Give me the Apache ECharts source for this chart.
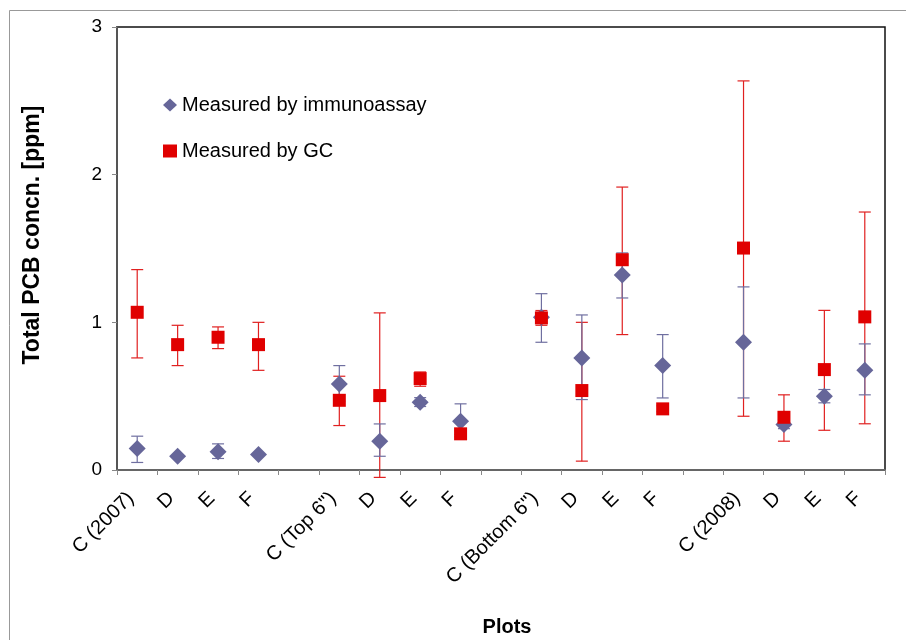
<!DOCTYPE html>
<html>
<head>
<meta charset="utf-8">
<script src="https://cdn.jsdelivr.net/npm/echarts@6/dist/echarts.min.js"></script>
<style>
  html, body { margin: 0; padding: 0; background: #fff; }
  #chart { width: 906px; height: 640px; }
</style>
</head>
<body>
<div id="chart"></div>
<script>
// Plot categories (blank entries separate the four groups)
const categories = ['C (2007)', 'D', 'E', 'F', '',
  'C (Top 6")', 'D', 'E', 'F', '',
  'C (Bottom 6")', 'D', 'E', 'F', '',
  'C (2008)', 'D', 'E', 'F'];

// Total PCB [ppm] measured by immunoassay, with error-bar limits
const immunoMean = [0.145, 0.093, 0.123, 0.105, null, 0.583, 0.195, 0.459, 0.330, null, 1.034, 0.759, 1.321, 0.707, null, 0.865, 0.308, 0.499, 0.675];
const immunoLow  = [0.051, 0.093, 0.078, 0.105, null, 0.466, 0.093, 0.430, 0.240, null, 0.865, 0.477, 1.165, 0.488, null, 0.488, 0.280, 0.455, 0.509];
const immunoHigh = [0.229, 0.093, 0.177, 0.105, null, 0.707, 0.312, 0.490, 0.448, null, 1.194, 1.050, 1.470, 0.917, null, 1.240, 0.340, 0.545, 0.854];

// Total PCB [ppm] measured by GC, with error-bar limits
const gcMean = [1.068, 0.849, 0.899, 0.849, null, 0.472, 0.504, 0.619, 0.245, null, 1.030, 0.538, 1.424, 0.414, null, 1.503, 0.357, 0.680, 1.037];
const gcLow  = [0.759, 0.707, 0.822, 0.675, null, 0.301, -0.050, 0.567, 0.225, null, 0.980, 0.060, 0.917, 0.395, null, 0.364, 0.195, 0.269, 0.313];
const gcHigh = [1.357, 0.980, 0.969, 1.000, null, 0.635, 1.064, 0.664, 0.265, null, 1.080, 1.000, 1.916, 0.435, null, 2.635, 0.509, 1.081, 1.747];

const yTicks = [0, 1, 2, 3];

const FONT = 'Arial, "Liberation Sans", sans-serif';
const IMMUNO_COLOR = '#666699';
const GC_COLOR = '#e00000';

function points(mean) {
  const out = [];
  mean.forEach((v, i) => { if (v !== null) out.push([i, v]); });
  return out;
}
function bars(low, high) {
  const out = [];
  low.forEach((v, i) => { if (v !== null && high[i] !== null && high[i] !== v) out.push([i, v, high[i]]); });
  return out;
}

function errorBarRenderer(color) {
  return function (params, api) {
    const x = api.value(0);
    const lo = api.coord([x, api.value(1)]);
    const hi = api.coord([x, api.value(2)]);
    const half = 6;
    const style = { stroke: color, lineWidth: 1.2 };
    return {
      type: 'group',
      children: [
        { type: 'line', shape: { x1: lo[0], y1: lo[1], x2: hi[0], y2: hi[1] }, style },
        { type: 'line', shape: { x1: hi[0] - half, y1: hi[1], x2: hi[0] + half, y2: hi[1] }, style },
        { type: 'line', shape: { x1: lo[0] - half, y1: lo[1], x2: lo[0] + half, y2: lo[1] }, style }
      ]
    };
  };
}

const chart = echarts.init(document.getElementById('chart'), null, { renderer: 'canvas' });

chart.setOption({
  animation: false,
  backgroundColor: '#fff',
  textStyle: { fontFamily: FONT },
  grid: {
    left: 117, top: 27, right: 21, bottom: 170,
    show: true, borderColor: '#111', borderWidth: 1.5, backgroundColor: '#fff'
  },
  legend: {
    left: 163, top: 95, orient: 'vertical', padding: 0,
    itemWidth: 14, itemHeight: 13, itemGap: 26,
    textStyle: { fontFamily: FONT, fontSize: 20, color: '#000' },
    data: [
      { name: 'Measured by immunoassay', icon: 'diamond' },
      { name: 'Measured by GC', icon: 'rect' }
    ]
  },
  xAxis: {
    type: 'category',
    data: categories,
    boundaryGap: true,
    axisLine: { lineStyle: { color: '#666', width: 2 } },
    axisTick: { show: true, interval: 0, length: 5, lineStyle: { color: '#888' } },
    axisLabel: {
      interval: 0, rotate: 45, fontSize: 20, color: '#000',
      fontFamily: FONT, margin: 19, padding: [0, 9, 0, 0]
    },
    splitLine: { show: false }
  },
  yAxis: {
    type: 'value',
    min: yTicks[0], max: yTicks[yTicks.length - 1], interval: 1,
    axisLine: { show: true, lineStyle: { color: '#555', width: 2 } },
    axisTick: { show: true, length: 5, lineStyle: { color: '#888' } },
    axisLabel: { fontSize: 19, color: '#000', margin: 15, fontFamily: FONT },
    splitLine: { show: false }
  },
  graphic: [
    {
      type: 'rect', silent: true, z: -10,
      shape: { x: 9.5, y: 10.5, width: 1000, height: 1000 },
      style: { fill: 'none', stroke: '#999', lineWidth: 1 }
    },
    {
      type: 'text', x: 33, y: 235, rotation: Math.PI / 2,
      style: {
        text: 'Total PCB concn. [ppm]', fontFamily: FONT, fontWeight: 'bold',
        fontSize: 23, fill: '#000', align: 'center', verticalAlign: 'middle'
      }
    },
    {
      type: 'text', x: 507, y: 627,
      style: {
        text: 'Plots', fontFamily: FONT, fontWeight: 'bold',
        fontSize: 20, fill: '#000', align: 'center', verticalAlign: 'middle'
      }
    }
  ],
  series: [
    {
      type: 'custom', name: 'GC error', silent: true,
      renderItem: errorBarRenderer('#e02020'),
      encode: { x: 0, y: [1, 2] },
      data: bars(gcLow, gcHigh), z: 2
    },
    {
      type: 'custom', name: 'Immunoassay error', silent: true,
      renderItem: errorBarRenderer('#6f6fa0'),
      encode: { x: 0, y: [1, 2] },
      data: bars(immunoLow, immunoHigh), z: 2
    },
    {
      type: 'scatter', name: 'Measured by immunoassay',
      symbol: 'diamond', symbolSize: 17,
      itemStyle: { color: IMMUNO_COLOR, opacity: 1 },
      data: points(immunoMean), z: 3
    },
    {
      type: 'scatter', name: 'Measured by GC',
      symbol: 'rect', symbolSize: 13,
      itemStyle: { color: GC_COLOR, opacity: 1 },
      data: points(gcMean), z: 4
    }
  ]
});
</script>
</body>
</html>
